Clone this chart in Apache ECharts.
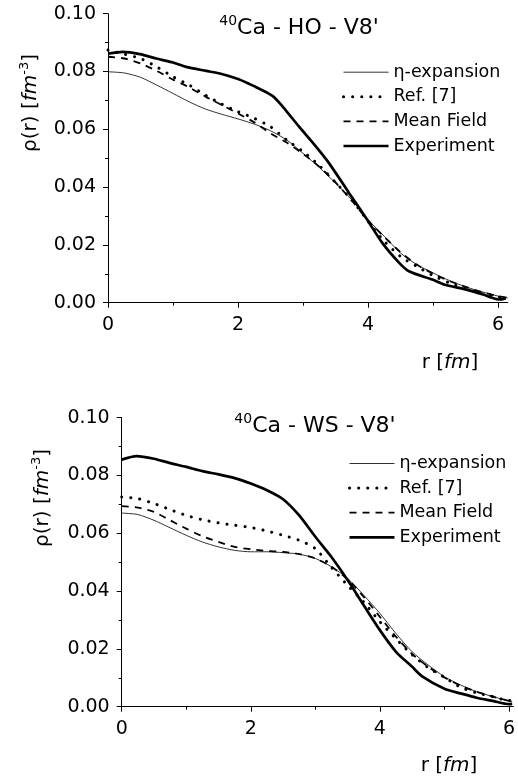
<!DOCTYPE html>
<html><head><meta charset="utf-8">
<script src="https://cdn.jsdelivr.net/npm/echarts@6/dist/echarts.min.js"></script>
<style>html,body{margin:0;padding:0;background:#fff}#c{width:518px;height:783px}</style>
</head><body><div id="c"></div>
<script>
const seriesNames = ['η-expansion', 'Ref. [7]', 'Mean Field', 'Experiment'];
const xTickValues = [0, 2, 4, 6];
const xMinorTickValues = [1, 3, 5];
const titleHO = "{s|40}Ca - HO - V8'";
const titleWS = "{s|40}Ca - WS - V8'";

// ---- 40Ca - HO - V8' ----
const rHO = [0,0.25,0.5,0.75,1,1.25,1.5,1.75,2,2.25,2.5,2.75,3,3.25,3.5,3.75,4,4.25,4.5,4.75,5,5.25,5.5,5.75,6,6.15];
const etaHO = [0.0799,0.0795,0.0780,0.0753,0.0724,0.0695,0.0670,0.0652,0.0636,0.0618,0.0595,0.0563,0.0517,0.0468,0.0414,0.0356,0.0287,0.0230,0.0172,0.0132,0.0103,0.0077,0.0055,0.0038,0.0023,0.0017];
const refHO = [0.0874,0.0860,0.0845,0.0816,0.0782,0.0753,0.0718,0.0687,0.0661,0.0638,0.0609,0.0563,0.0523,0.0475,0.0416,0.0356,0.0282,0.0213,0.0160,0.0126,0.0094,0.0069,0.0048,0.0031,0.0020,0.0015];
const mfHO = [0.0851,0.0845,0.0828,0.0802,0.0772,0.0745,0.0713,0.0684,0.0655,0.0624,0.0586,0.0554,0.0515,0.0471,0.0416,0.0353,0.0285,0.0228,0.0175,0.0132,0.0101,0.0075,0.0055,0.0037,0.0023,0.0017];
const rExpHO = [0,0.23,0.49,0.74,1.0,1.2,1.51,1.72,2.0,2.23,2.53,2.69,2.94,3.2,3.4,3.71,3.97,4.22,4.48,4.63,4.99,5.2,5.5,5.76,5.91,6.02,6.12];
const expHO = [0.0862,0.0868,0.0860,0.0845,0.0831,0.0816,0.0802,0.0793,0.0774,0.0751,0.0716,0.0678,0.0609,0.0540,0.0483,0.0379,0.0293,0.0207,0.0138,0.0109,0.0080,0.0061,0.0046,0.0029,0.0017,0.0011,0.0015];

// ---- 40Ca - WS - V8' ----
const rWS = [0,0.25,0.5,0.75,1,1.25,1.5,1.75,2,2.25,2.5,2.75,3,3.25,3.5,3.75,4,4.25,4.5,4.75,5,5.25,5.5,5.75,6,6.05];
const etaWS = [0.0670,0.0665,0.0645,0.0619,0.0593,0.0570,0.0553,0.0541,0.0536,0.0536,0.0533,0.0528,0.0513,0.0484,0.0444,0.0386,0.0323,0.0253,0.0190,0.0144,0.0104,0.0075,0.0052,0.0035,0.0020,0.0017];
const refWS = [0.0726,0.0720,0.0703,0.0682,0.0662,0.0647,0.0636,0.0628,0.0620,0.0608,0.0593,0.0576,0.0547,0.0482,0.0420,0.0362,0.0294,0.0235,0.0180,0.0135,0.0102,0.0067,0.0048,0.0035,0.0021,0.0023];
const mfWS = [0.0694,0.0689,0.0674,0.0645,0.0616,0.0590,0.0570,0.0553,0.0545,0.0539,0.0536,0.0528,0.0513,0.0484,0.0441,0.0380,0.0311,0.0242,0.0182,0.0138,0.0101,0.0073,0.0052,0.0035,0.0020,0.0017];
const rExpWS = [0,0.23,0.5,0.75,1.0,1.25,1.5,1.75,2.0,2.25,2.5,2.75,3.0,3.25,3.5,3.75,4.0,4.25,4.5,4.65,5.0,5.25,5.5,5.75,6.0,6.05];
const expWS = [0.0855,0.0867,0.0858,0.0843,0.0830,0.0815,0.0804,0.0791,0.0772,0.0749,0.0718,0.0662,0.0588,0.0518,0.0438,0.0351,0.0265,0.0190,0.0138,0.0106,0.0062,0.0046,0.0031,0.0020,0.0009,0.0010];

const FONT = 'DejaVu Sans';
const pairs = (xs, ys) => xs.map((x, i) => [x, ys[i]]);
const lineStyles = [
  { width: 1, color: '#333', type: 'solid' },
  { width: 3, color: '#000', type: [0.1, 9], cap: 'round' },
  { width: 1.8, color: '#000', type: [7, 6] },
  { width: 2.7, color: '#000', type: 'solid' }
];

function mkSeries(xi, yi, sets) {
  return sets.map((d, i) => ({
    name: seriesNames[i], type: 'line', xAxisIndex: xi, yAxisIndex: yi,
    data: pairs(d[0], d[1]), symbol: 'none', smooth: 0.25,
    lineStyle: lineStyles[i], color: '#000', z: 2 + i, silent: true
  }));
}
function mkXAxes(gi, max) {
  return [{
    type: 'value', gridIndex: gi, min: 0, max: max, position: 'bottom',
    axisLine: { show: true, onZero: false, lineStyle: { color: '#000', width: 1 } },
    axisTick: { show: true, length: 5, customValues: xTickValues, lineStyle: { color: '#000' } },
    axisLabel: { customValues: xTickValues, margin: 13, color: '#000', fontFamily: FONT, fontSize: 19 },
    splitLine: { show: false }
  }, {
    type: 'value', gridIndex: gi, min: 0, max: max, position: 'bottom',
    axisLine: { show: false },
    axisTick: { show: true, length: 3, customValues: xMinorTickValues, lineStyle: { color: '#000' } },
    axisLabel: { show: false },
    splitLine: { show: false }
  }];
}
function mkYAxis(gi) {
  return {
    type: 'value', gridIndex: gi, min: 0, max: 0.1, interval: 0.02,
    axisLine: { show: true, onZero: false, lineStyle: { color: '#000', width: 1 } },
    axisTick: { show: true, length: 5, lineStyle: { color: '#000' } },
    minorTick: { show: true, splitNumber: 2, length: 3, lineStyle: { color: '#000' } },
    axisLabel: { margin: 12, color: '#000', fontFamily: FONT, fontSize: 19, formatter: v => v.toFixed(2) },
    splitLine: { show: false }
  };
}
function mkLegend(left, top) {
  return {
    orient: 'vertical', left: left, top: top, padding: 0,
    itemWidth: 45, itemHeight: 14, itemGap: 6.6, selectedMode: false,
    textStyle: { fontFamily: FONT, fontSize: 17.5, color: '#000' },
    data: seriesNames.map((n, i) => ({ name: n, lineStyle: lineStyles[i], itemStyle: { opacity: 0 } }))
  };
}
function txt(x, y, text, size, rot) {
  return {
    type: 'text', x: x, y: y, rotation: rot || 0, z: 100,
    style: {
      text: text, fontFamily: FONT, fontSize: size, fill: '#000', align: 'center', verticalAlign: 'middle',
      lineHeight: size + 6,
      rich: {
        n: { fontFamily: FONT, fontSize: size, lineHeight: size + 6, fill: '#000' },
        i: { fontFamily: FONT, fontSize: size, lineHeight: size + 6, fontStyle: 'italic', fill: '#000' },
        s: { fontFamily: FONT, fontSize: Math.round(size * 0.65), lineHeight: 8, verticalAlign: 'top', fill: '#000' }
      }
    }
  };
}

const chart = echarts.init(document.getElementById('c'), null, { renderer: 'canvas' });
chart.setOption({
  animation: false,
  backgroundColor: '#fff',
  grid: [
    { left: 108, top: 13.7, width: 65 * 6.15, height: 289 },
    { left: 121.7, top: 417.7, width: 65 * 6.07, height: 289 }
  ],
  xAxis: [...mkXAxes(0, 6.15), ...mkXAxes(1, 6.07)],
  yAxis: [mkYAxis(0), mkYAxis(1)],
  legend: [mkLegend(342, 63.2), mkLegend(348, 454.5)],
  series: [
    ...mkSeries(0, 0, [[rHO, etaHO], [rHO, refHO], [rHO, mfHO], [rExpHO, expHO]]),
    ...mkSeries(2, 1, [[rWS, etaWS], [rWS, refWS], [rWS, mfWS], [rExpWS, expWS]])
  ],
  graphic: [
    txt(299, 28, titleHO, 22),
    txt(315, 426, titleWS, 22),
    txt(31, 103, '{n|ρ(r) [}{i|fm}{s|-3}{n|]}', 20, Math.PI / 2),
    txt(43, 498, '{n|ρ(r) [}{i|fm}{s|-3}{n|]}', 20, Math.PI / 2),
    txt(450, 363, '{n|r [}{i|fm}{n|]}', 20),
    txt(449, 766, '{n|r [}{i|fm}{n|]}', 20)
  ]
});
</script></body></html>
